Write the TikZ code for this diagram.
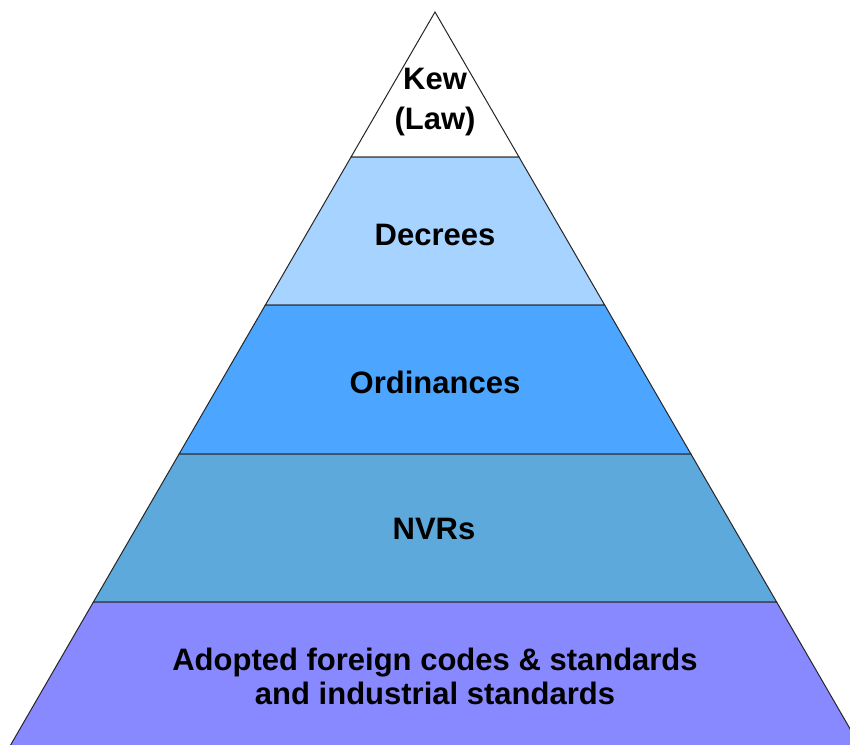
\documentclass[tikz,border=0pt]{standalone}
\usepackage{fontspec}
\setmainfont{Liberation Sans}
\definecolor{cLaw}{HTML}{FFFFFF}
\definecolor{cDec}{HTML}{A6D3FF}
\definecolor{cOrd}{HTML}{4CA6FF}
\definecolor{cNVR}{HTML}{5EA9DC}
\definecolor{cStd}{HTML}{8888FF}
\tikzset{
  band/.style={draw=black!85, line width=1pt, line join=miter},
  lbl/.style={font=\fontsize{31}{34}\selectfont\bfseries, align=center, inner sep=0pt}
}
\begin{document}
\begin{tikzpicture}[x=1pt,y=-1pt]
\useasboundingbox (0,0) rectangle (850,744);
\def\ax{435}\def\ay{12}\def\sl{0.579}
\foreach \ya/\yb/\col in {12/157/cLaw,157/305/cDec,305/454/cOrd,454/602/cNVR,602/760/cStd}{
  \pgfmathsetmacro\wa{\sl*(\ya-\ay)}
  \pgfmathsetmacro\wb{\sl*(\yb-\ay)}
  \filldraw[band, fill=\col] (\ax-\wa,\ya) -- (\ax+\wa,\ya) -- (\ax+\wb,\yb) -- (\ax-\wb,\yb) -- cycle;
}
\node[lbl, font=\fontsize{31}{40}\selectfont\bfseries] (law) at (435,102) {Kew\\(Law)};
\node[lbl] (dec) at (435,235) {Decrees};
\node[lbl] (ord) at (435,382) {Ordinances};
\node[lbl] (nvr) at (434,529) {NVRs};
\node[lbl] (std) at (435,676) {Adopted foreign codes \& standards\\and industrial standards};
\end{tikzpicture}
\end{document}
